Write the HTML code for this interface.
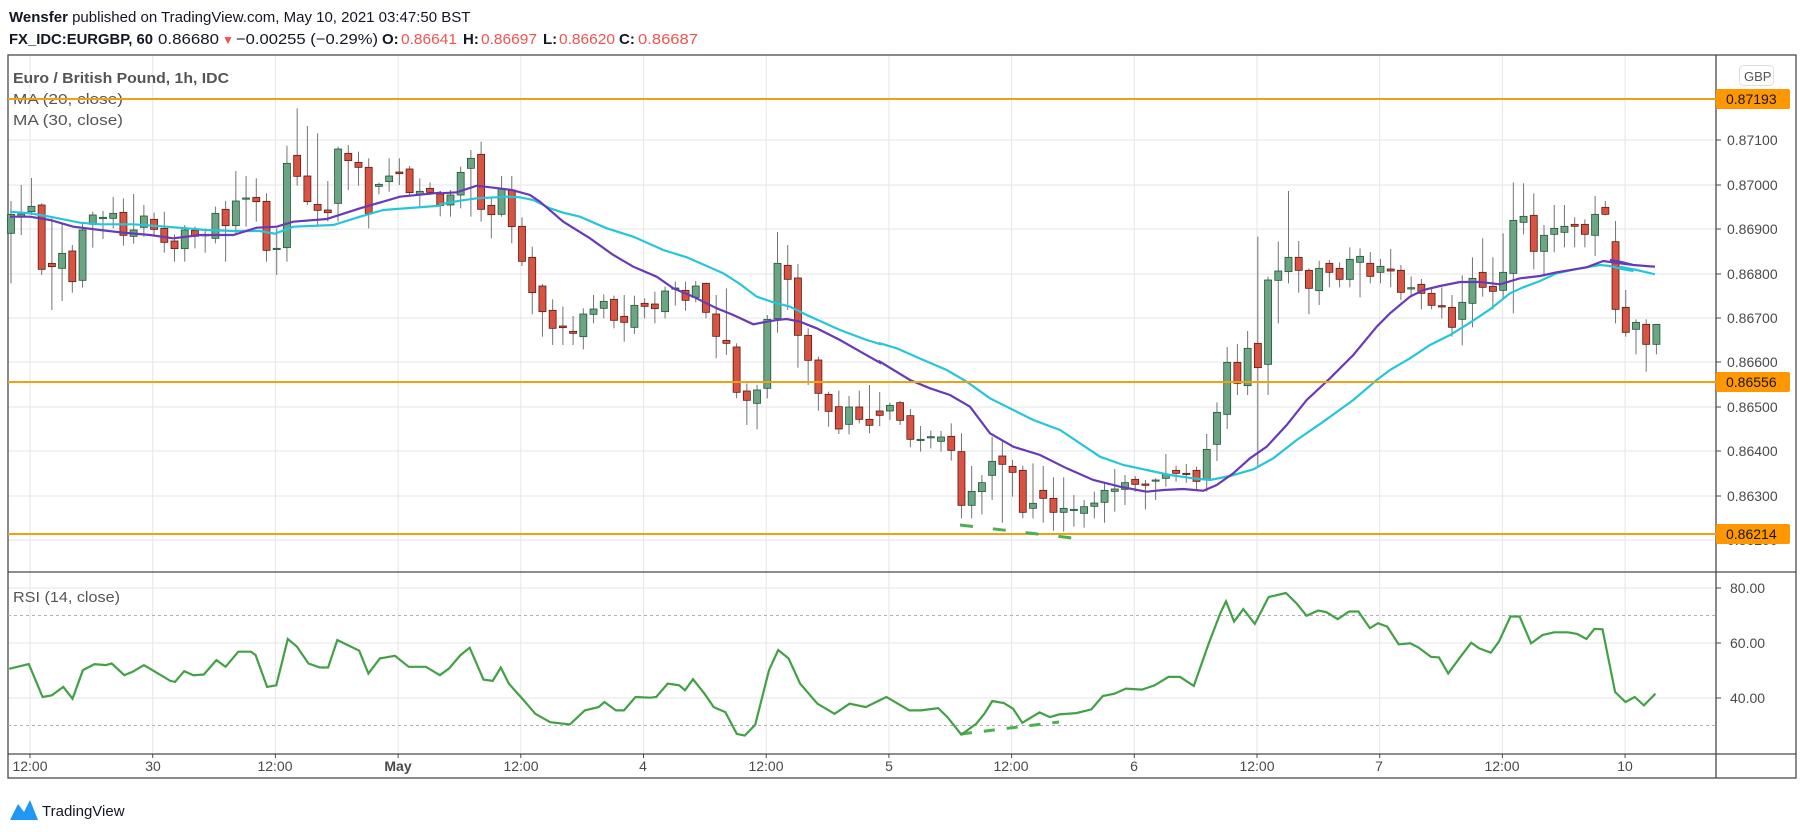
<!DOCTYPE html>
<html><head><meta charset="utf-8"><style>
html,body{margin:0;padding:0;background:#fff;}
svg{display:block;font-family:"Liberation Sans",sans-serif;}
</style></head><body>
<svg id="s" width="1805" height="832" viewBox="0 0 1805 832" xmlns="http://www.w3.org/2000/svg">
<rect width="1805" height="832" fill="#fff"/>
<g id="grid" stroke="#e6e6e6" stroke-width="1"></g>
<text x="9" y="22" font-size="15" fill="#131722"><tspan font-weight="bold">Wensfer</tspan><tspan> published on TradingView.com, May 10, 2021 03:47:50 BST</tspan></text>
<g font-size="15" fill="#131722">
<text x="9" y="44" font-weight="bold" textLength="144" lengthAdjust="spacingAndGlyphs">FX_IDC:EURGBP, 60</text>
<text x="158" y="44" textLength="61" lengthAdjust="spacingAndGlyphs">0.86680</text>
<text x="222" y="44" font-size="12" fill="#ef5350">▼</text>
<text x="236" y="44" textLength="142" lengthAdjust="spacingAndGlyphs">−0.00255 (−0.29%)</text>
<text x="382" y="44" font-weight="bold">O:</text>
<text x="401" y="44" fill="#ef5350" textLength="56" lengthAdjust="spacingAndGlyphs">0.86641</text>
<text x="463" y="44" font-weight="bold">H:</text>
<text x="481" y="44" fill="#ef5350" textLength="56" lengthAdjust="spacingAndGlyphs">0.86697</text>
<text x="543" y="44" font-weight="bold">L:</text>
<text x="559" y="44" fill="#ef5350" textLength="56" lengthAdjust="spacingAndGlyphs">0.86620</text>
<text x="619" y="44" font-weight="bold">C:</text>
<text x="638" y="44" fill="#ef5350" textLength="60" lengthAdjust="spacingAndGlyphs">0.86687</text>
</g>
<g stroke="#4a4a4a" stroke-width="1.3" fill="none">
<rect x="8" y="55" width="1788" height="723"/>
<line x1="8" y1="572" x2="1796" y2="572"/>
<line x1="8" y1="754" x2="1796" y2="754"/>
<line x1="1716" y1="55" x2="1716" y2="778"/>
</g>
<text x="13" y="83" font-size="15" font-weight="bold" fill="#555" textLength="216" lengthAdjust="spacingAndGlyphs">Euro / British Pound, 1h, IDC</text>
<text x="13" y="104" font-size="15" fill="#555" textLength="110" lengthAdjust="spacingAndGlyphs">MA (20, close)</text>
<text x="13" y="125" font-size="15" fill="#555" textLength="110" lengthAdjust="spacingAndGlyphs">MA (30, close)</text>
<text x="13" y="602" font-size="15" fill="#555" textLength="107" lengthAdjust="spacingAndGlyphs">RSI (14, close)</text>
<g font-size="14" fill="#4a4a4a">
<text x="1727" y="145">0.87100</text>
<text x="1727" y="190">0.87000</text>
<text x="1727" y="234">0.86900</text>
<text x="1727" y="279">0.86800</text>
<text x="1727" y="323">0.86700</text>
<text x="1727" y="367">0.86600</text>
<text x="1727" y="412">0.86500</text>
<text x="1727" y="456">0.86400</text>
<text x="1727" y="501">0.86300</text>
<text x="1727" y="545">0.86200</text>
<text x="1730" y="593">80.00</text>
<text x="1730" y="648">60.00</text>
<text x="1730" y="703">40.00</text>
</g>
<g stroke="#4a4a4a" stroke-width="1">
<line x1="1716" x2="1721" y1="140" y2="140"/><line x1="1716" x2="1721" y1="185" y2="185"/>
<line x1="1716" x2="1721" y1="229" y2="229"/><line x1="1716" x2="1721" y1="274" y2="274"/>
<line x1="1716" x2="1721" y1="318" y2="318"/><line x1="1716" x2="1721" y1="362" y2="362"/>
<line x1="1716" x2="1721" y1="407" y2="407"/><line x1="1716" x2="1721" y1="451" y2="451"/>
<line x1="1716" x2="1721" y1="496" y2="496"/>
<line x1="1716" x2="1721" y1="588" y2="588"/><line x1="1716" x2="1721" y1="643" y2="643"/><line x1="1716" x2="1721" y1="698" y2="698"/>
</g>
<rect x="1739.5" y="65.5" width="34" height="20" rx="4" fill="#fff" stroke="#ddd"/>
<text x="1744" y="81" font-size="13" fill="#555">GBP</text>
<g stroke="#b0b0b0" stroke-width="1" stroke-dasharray="3,3">
<line x1="8" x2="1716" y1="615.5" y2="615.5"/>
<line x1="8" x2="1716" y1="725.5" y2="725.5"/>
</g>
<g id="candles"></g>
<g id="mas" fill="none" stroke-width="2.2"></g>
<g stroke="#f0a010" stroke-width="2">
<line x1="8" x2="1716" y1="99" y2="99"/>
<line x1="8" x2="1716" y1="382" y2="382"/>
<line x1="8" x2="1716" y1="534" y2="534"/>
</g>
<g font-size="14" fill="#131722">
<rect x="1716" y="89" width="74" height="20" rx="2" fill="#ff9800"/><text x="1726" y="104">0.87193</text>
<rect x="1716" y="372" width="74" height="20" rx="2" fill="#ff9800"/><text x="1726" y="387">0.86556</text>
<rect x="1716" y="524" width="74" height="20" rx="2" fill="#ff9800"/><text x="1726" y="539">0.86214</text>
</g>
<line x1="960" y1="525" x2="1072" y2="538" stroke="#4caf50" stroke-width="3" stroke-dasharray="13,20"/>
<line x1="961" y1="734" x2="1059" y2="722" stroke="#4caf50" stroke-width="3" stroke-dasharray="11,12"/>
<polyline id="rsi" fill="none" stroke="#43a047" stroke-width="2.2"/>
<g font-size="14" fill="#4a4a4a" text-anchor="middle">
<text x="30" y="771">12:00</text><text x="153" y="771">30</text><text x="275" y="771">12:00</text>
<text x="398" y="771" font-weight="bold">May</text><text x="521" y="771">12:00</text><text x="643" y="771">4</text>
<text x="766" y="771">12:00</text><text x="889" y="771">5</text><text x="1011" y="771">12:00</text>
<text x="1134" y="771">6</text><text x="1257" y="771">12:00</text><text x="1379" y="771">7</text>
<text x="1502" y="771">12:00</text><text x="1625" y="771">10</text>
</g>
<g id="ticks" stroke="#4a4a4a"></g>
<path d="M10 820 L18 804 L24 812 L30 800 L38 820 Z" fill="#2196f3"/>
<text x="42" y="816" font-size="15" fill="#131722">TradingView</text>
</svg>
<script>
(function(){
var NS="http://www.w3.org/2000/svg";
function el(t,a,p){var e=document.createElementNS(NS,t);for(var k in a)e.setAttribute(k,a[k]);p.appendChild(e);return e;}
var grid=document.getElementById('grid'),ticks=document.getElementById('ticks');
[140,185,229,274,318,362,407,451,496,540].forEach(function(y){el('line',{x1:8,x2:1716,y1:y,y2:y},grid);});
[588,643,698].forEach(function(y){el('line',{x1:8,x2:1716,y1:y,y2:y},grid);});
for(var k=0;k<14;k++){var x=30+k*122.7;el('line',{x1:x,x2:x,y1:55,y2:754},grid);el('line',{x1:x,x2:x,y1:754,y2:758},ticks);}
var segs=[[95,[[358,415,318,565,1],[357,366,270,420,1],[334,350,249,360,1],[330,523,325,540,0],[505,515,370,645,0],[475,520,385,618,1],[468,560,450,593,0],[405,556,385,578,1],[360,388,350,458,1],[367,371,348,432,1],[355,370,306,400,1],[352,421,310,452,0],[405,424,297,446,1],[363,397,330,425,1],[373,403,353,420,0],[400,442,350,473,0],[438,461,418,500,0],[405,461,390,500,1],[406,424,395,460,0],[419,421,405,473,1],[355,430,335,445,1],[343,392,318,500,0],[318,392,228,420,1],[309,311,243,395,1],[307,320,250,380,0],[319,466,295,500,0],[460,463,400,540,1],[205,458,152,500,1],[181,244,40,272,0],[243,320,93,330,0],[328,346,115,390,0],[345,353,258,380,0],[162,325,155,380,1],[175,197,150,285,0],[202,217,170,272,0],[217,355,190,400,0],[268,274,263,298,1],[243,260,190,290,1],[231,236,190,270,0],[222,293,213,300,0],[289,299,250,340,1],[280,292,262,300,0],[297,331,288,364,0]]],
[140,[[165,195,150,230,1],[97,165,80,205,1],[55,85,30,230,1],[43,208,5,245,0],[196,224,170,295,0],[147,223,108,230,1],[150,260,108,310,0],[259,364,232,378,0],[352,458,320,523,0],[438,515,432,590,0],[511,565,478,615,0],[558,563,500,615,0],[574,580,528,615,0],[522,590,505,628,1],[507,523,465,550,1],[484,505,463,535,1],[478,541,467,565,0],[529,547,465,605,0],[496,562,467,582,1],[490,499,475,535,0],[492,506,455,550,0],[453,515,440,535,1],[444,446,425,497,1],[451,481,425,512,0],[438,472,423,487,1],[430,517,428,535,0],[522,589,465,655,0],[601,610,445,645,0],[621,757,610,775,0],[753,781,730,855,0],[750,790,735,868,1],[538,745,525,775,1],[370,536,276,578,1],[376,418,315,510,0],[414,586,372,683,0],[586,661,565,735,0],[660,760,650,812,0],[763,814,755,860,0],[800,867,752,882,0],[801,853,768,883,1],[801,838,752,850,0],[838,856,735,880,0],[813,826,756,858,0]]],
[300,[[316,333,308,360,1],[308,361,303,375,0],[347,418,327,442,0],[418,420,378,455,1],[410,412,392,445,1],[411,424,393,455,1],[409,451,370,482,0],[455,616,400,655,0],[574,616,498,655,1],[548,575,525,643,1],[484,526,410,600,1],[468,493,423,668,0],[499,517,480,590,0],[511,637,497,655,0],[610,625,490,655,1],[571,595,498,668,0],[595,637,532,692,0],[625,637,532,695,1],[628,630,585,680,1],[620,640,600,683,1],[609,619,575,655,1],[571,607,550,668,1],[567,574,507,635,1],[548,568,525,615,1],[538,553,528,575,0],[552,556,540,628,0],[540,542,535,600,1],[522,535,462,560,1],[511,520,497,545,0],[520,523,492,548,0],[511,544,500,570,0],[448,538,402,575,1],[337,433,307,483,1]]],
[170,[[577,733,531,777,1],[577,640,522,675,0],[535,647,483,675,1],[520,593,200,890,0],[330,583,320,675,1],[303,331,215,460,1],[262,305,63,340,1],[262,301,213,368,0],[301,355,295,433,0],[295,362,272,405,1],[280,307,270,352,0],[295,328,277,352,0],[268,328,232,352,1],[259,277,235,382,1],[280,319,246,340,0],[289,307,267,340,1],[297,303,237,352,0],[301,367,285,390,0],[353,357,319,380,1],[343,370,327,418,0],[370,406,352,418,0],[407,411,352,445,0],[412,472,375,500,0],[397,448,316,526,1],[325,400,262,472,1],[307,352,205,380,0],[349,364,262,418,0],[307,361,190,390,1],[151,310,37,430,1],[139,157,40,193,1],[136,244,70,298,0],[196,244,165,320,1],[175,193,105,247,1],[169,187,105,232,1],[163,169,142,232,0],[163,193,148,232,0],[133,196,78,258,1],[112,133,93,136,0]]],
[50,[[575,778,513,820,0],[772,847,720,860,0],[817,838,808,913,1],[823,883,808,965,0],[823,883,838,913,1]]]];
var g=document.getElementById('candles'),i=0;
segs.forEach(function(s){var y0=s[0];s[1].forEach(function(c){
var x=11+i*10.22;var t=y0+c[0]/3,b=y0+c[1]/3,wt=y0+c[2]/3,wb=y0+c[3]/3;
el('line',{x1:x,x2:x,y1:wt,y2:wb,stroke:'#737375','stroke-width':1},g);
var h=Math.max(b-t,1.2);
el('rect',{x:x-3.5,y:t,width:7,height:h,fill:c[4]?'#6ba583':'#d75442',stroke:c[4]?'#225437':'#5b1a13','stroke-width':0.8},g);
i++;});});
function conv(x0,y0,arr){return arr.map(function(p){return (x0+p[0]/3).toFixed(1)+','+(y0+p[1]/3).toFixed(1);});}
var pur=[].concat(
conv(0,95,[[30,365],[90,365],[150,375],[220,395],[300,405],[370,413],[450,420],[520,430],[600,420],[700,420],[770,398],[830,395],[880,380],[980,372],[1080,340],[1200,305],[1320,293]]),
conv(440,140,[[0,160],[50,157],[110,137],[160,143],[215,150],[270,165],[300,185],[370,245],[450,295],[520,345],[580,380],[650,410],[700,445],[760,470],[830,505],[880,525],[940,553],[980,545],[1010,540],[1040,537],[1080,545],[1130,565],[1200,600],[1270,640],[1320,668]]),
conv(880,300,[[0,185],[90,240],[150,265],[210,285],[270,320],[330,400],[400,440],[480,465],[560,505],[640,540],[720,560],[800,575],[850,570],[910,567],[970,572],[1010,555],[1060,520],[1110,475],[1160,440],[1220,375]]),
conv(1190,170,[[350,690],[420,625],[490,555],[560,470],[600,430],[660,380],[700,360],[750,348],[810,336],[870,336],[930,343],[990,325],[1050,318],[1100,307],[1190,292],[1240,273],[1290,280],[1330,285]]),
conv(1600,50,[[30,630],[60,635],[100,645],[165,650]]));
var cy=[].concat(
conv(0,95,[[30,350],[90,355],[150,365],[240,383],[300,388],[400,388],[500,395],[620,405],[700,408],[780,408],[825,416],[880,395],[1000,390],[1080,365],[1150,345],[1320,332]]),
conv(440,140,[[0,193],[60,182],[110,175],[200,170],[240,172],[280,180],[330,205],[370,218],[420,230],[500,265],[580,290],[670,330],[740,352],[800,378],[850,400],[900,432],[950,470],[1000,487],[1050,500],[1100,525],[1200,570],[1280,600],[1320,612]]),
conv(880,300,[[0,130],[50,145],[130,180],[200,210],[260,245],[330,295],[400,330],[460,360],[540,390],[600,430],[660,470],[730,495],[800,510],[870,525],[940,535],[990,540],[1050,528],[1120,508],[1180,475],[1250,420],[1330,365]]),
conv(1190,170,[[490,690],[560,630],[600,600],[660,565],[720,525],[780,495],[840,458],[900,418],[960,370],[1000,352],[1050,333],[1100,310],[1170,295],[1230,285],[1260,288],[1300,298],[1330,303]]),
conv(1600,50,[[60,650],[110,660],[165,673]]));
var m=document.getElementById('mas');
el('polyline',{points:cy.join(' '),stroke:'#26c6da'},m);
el('polyline',{points:pur.join(' '),stroke:'#673ab7'},m);
var r=[[8,326],[25,312],[37,410],[45,405],[55,380],[63,415],[72,330],[82,312],[92,315],[97,310],[108,345],[115,335],[125,315],[135,335],[148,362],[152,365],[160,333],[168,345],[177,343],[188,300],[196,320],[207,275],[218,275],[222,285],[232,380],[240,375],[250,237],[258,260],[268,310],[278,322],[285,322],[293,240],[305,260],[312,272],[320,340],[330,295],[343,287],[355,320],[370,320],[382,345],[390,325],[400,285],[408,263],[420,358],[428,362],[435,322],[442,370],[455,420],[465,460],[478,485],[495,492],[508,450],[520,440],[525,425],[535,450],[542,450],[552,410],[565,412],[570,410],[580,370],[590,375],[595,390],[602,357],[612,400],[620,440],[630,455],[640,520],[647,525],[656,493],[668,330],[676,270],[685,295],[695,370],[710,430],[725,460],[738,430],[752,440],[770,410],[790,450],[800,450],[815,443],[823,470],[835,522],[848,490],[855,460],[862,422],[872,428],[880,445],[888,487],[903,456],[912,470],[920,462],[935,458],[948,447],[958,407],[968,400],[978,385],[992,388],[1003,375],[1015,350],[1025,350],[1037,377],[1050,250],[1060,160],[1065,125],[1072,185],[1080,148],[1090,192],[1102,112],[1117,100],[1126,130],[1135,168],[1145,152],[1152,157],[1162,178],[1172,155],[1180,155],[1190,205],[1197,190],[1205,200],[1215,253],[1225,250],[1232,262],[1243,290],[1250,292],[1258,340],[1268,293],[1278,248],[1285,265],[1295,278],[1302,245],[1312,170],[1320,170],[1330,250],[1340,225],[1350,217],[1362,217],[1370,222],[1378,237],[1385,207],[1392,208],[1403,395],[1412,425],[1420,410],[1428,435],[1438,400]];
document.getElementById('rsi').setAttribute('points',r.map(function(p){return (p[0]*1.1512).toFixed(1)+','+(588+(p[1]-85)*0.3354).toFixed(1);}).join(' '));
})();
</script>
</body></html>
